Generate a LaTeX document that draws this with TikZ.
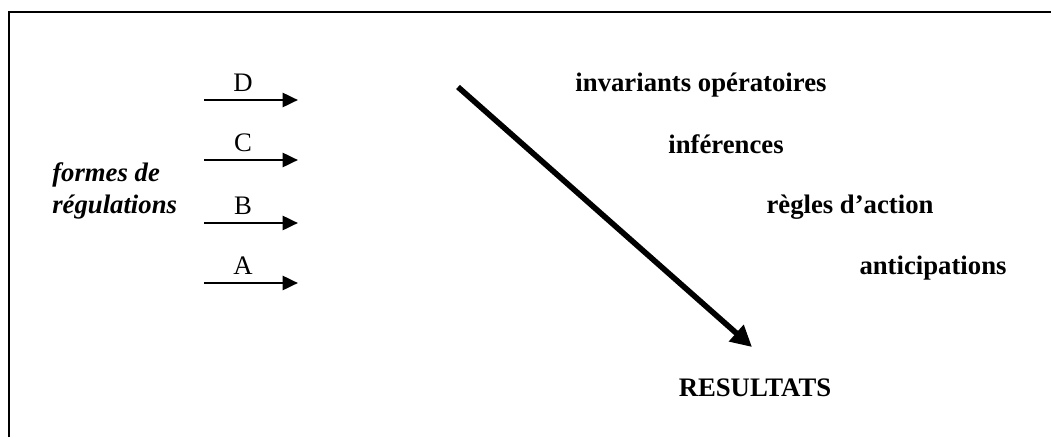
\documentclass[tikz,border=0pt]{standalone}
\usepackage{fontspec}
\setmainfont{Liberation Serif}
\usepackage{tikz}
\usetikzlibrary{arrows.meta}
\tikzset{
    small arrow/.style={line width=2pt, -{Triangle[length=11pt, width=10pt]}},
    big arrow/.style={line width=4pt, -{Triangle[length=15pt, width=15pt]}},
    letter/.style={font=\fontsize{19}{22}\selectfont, inner sep=0pt},
    term/.style={font=\fontsize{19}{22}\selectfont\bfseries, inner sep=0pt}
}

\begin{document}
\begin{tikzpicture}[x=0.025cm, y=0.025cm]
    \useasboundingbox (0,0) rectangle (1051,437);

    % Frame (top and left sides)
    \draw[line width=1.8pt] (9,0) -- (9,425) -- (1051,425);

    % Forms of regulation
    \node[term, font=\fontsize{19}{22.7}\selectfont\bfseries\itshape, align=left, anchor=west] (formes) at (52,246) {formes de\\r\'egulations};

    % Small arrows with their letters
    \foreach \lab/\y in {D/337, C/277, B/214, A/154} {
        \coordinate (s\lab) at (204,\y);
        \coordinate (e\lab) at (298,\y);
        \node[letter] (l\lab) at (243,\y+17) {\lab};
        \draw[small arrow] (s\lab) -- (e\lab);
    }

    % Big diagonal arrow
    \coordinate (top) at (458,350);
    \coordinate (bottom) at (752,90);
    \draw[big arrow] (top) -- (bottom);

    % Terms along the diagonal
    \node[term] (invar) at (701,352) {invariants op\'eratoires};
    \node[term] (infer) at (726,293) {inf\'erences};
    \node[term] (regles) at (850,230) {r\`egles d’action};
    \node[term] (antic) at (933,169) {anticipations};
    \node[term] (result) at (755,49) {RESULTATS};
\end{tikzpicture}
\end{document}
